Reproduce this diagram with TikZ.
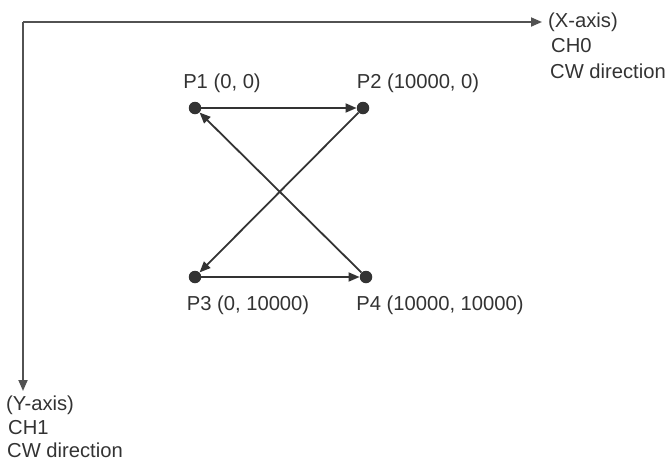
\documentclass[tikz,border=0pt]{standalone}
\usepackage{fontspec}
\setmainfont{Liberation Sans}
\usetikzlibrary{arrows.meta}
\definecolor{ink}{HTML}{333333}
\begin{document}
\begin{tikzpicture}[x=1pt,y=-1pt,
  dot/.style={circle,fill=ink,inner sep=0pt,minimum size=12.5pt},
  lbl/.style={text=ink,font=\fontsize{20.2}{24}\selectfont,inner sep=0pt},
  conn/.style={draw=ink,line width=1.8pt,-{Triangle[length=11pt,width=9pt]}},
  axis/.style={draw=ink!85,line width=1.8pt,-{Triangle[length=11pt,width=9pt]}}]
\useasboundingbox (0,0) rectangle (672,461);
% axes
\coordinate (O) at (23,22);
\coordinate (xend) at (542,22);
\coordinate (yend) at (23,391);
\draw[axis] (O) -- (xend);
\draw[axis] (O) -- (yend);
\node[lbl,anchor=west] (xa) at (548,22) {(X-axis)};
\node[lbl,anchor=west] (xb) at (551,46) {CH0};
\node[lbl,anchor=west] (xc) at (550,71) {CW direction};
\node[lbl,anchor=west] (ya) at (6,405) {(Y-axis)};
\node[lbl,anchor=west] (yb) at (8,428) {CH1};
\node[lbl,anchor=west] (yc) at (7,450) {CW direction};
% points
\node[dot] (p1) at (195,108) {};
\node[dot] (p2) at (363,108) {};
\node[dot] (p3) at (195,277) {};
\node[dot] (p4) at (366,277) {};
\node[lbl] (l1) at (222,83) {P1 (0, 0)};
\node[lbl] (l2) at (418,83) {P2 (10000, 0)};
\node[lbl] (l3) at (248,305) {P3 (0, 10000)};
\node[lbl] (l4) at (440,305) {P4 (10000, 10000)};
% connectors
\draw[conn] (p1) -- (p2);
\draw[conn] (p3) -- (p4);
\draw[conn] (p2) -- (p3);
\draw[conn] (p4) -- (p1);
\end{tikzpicture}
\end{document}
